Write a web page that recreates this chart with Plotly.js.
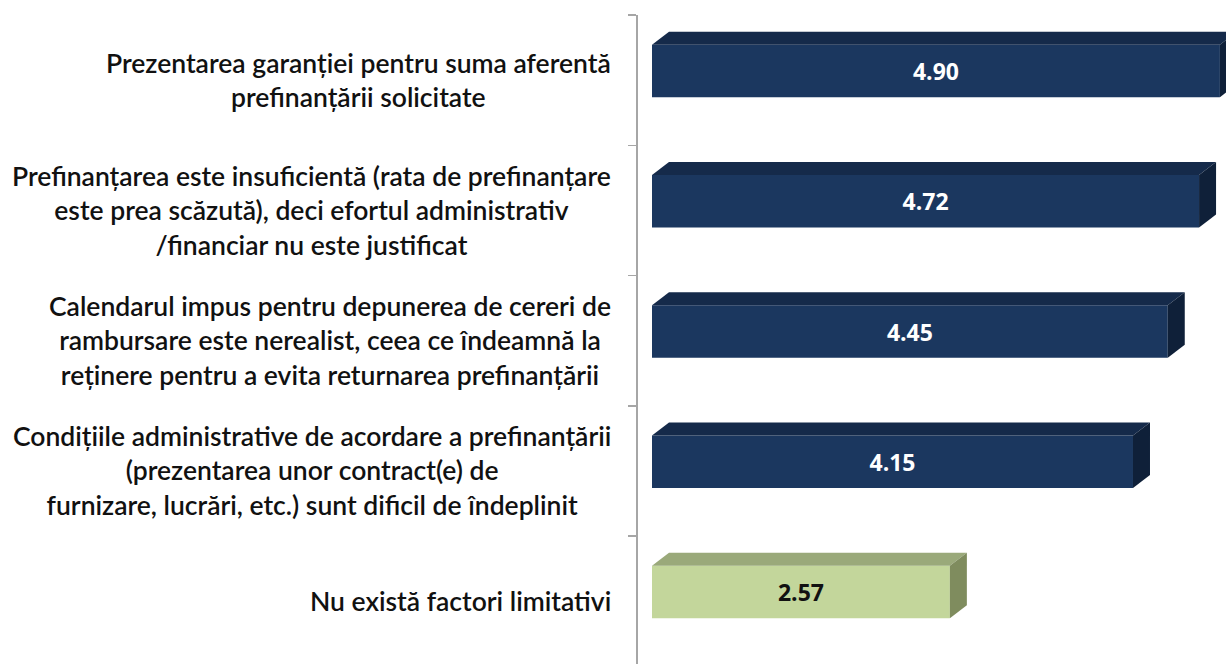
<!DOCTYPE html>
<html>
<head>
<meta charset="utf-8">
<script src="https://cdn.plot.ly/plotly-3.0.1.min.js"></script>
<style>
  html, body { margin: 0; padding: 0; background: #ffffff; }
  #chart { width: 1226px; height: 664px; }
</style>
</head>
<body>
<div id="chart"></div>
<script>
// ---- data ----
const categories = [
  "Prezentarea garanției pentru suma aferentă<br>prefinanțării solicitate",
  "Prefinanțarea este insuficientă (rata de prefinanțare<br>este prea scăzută), deci efortul administrativ<br>/financiar nu este justificat",
  "Calendarul impus pentru depunerea de cereri de<br>rambursare este nerealist, ceea ce îndeamnă la<br>reținere pentru a evita returnarea prefinanțării",
  "Condițiile administrative de acordare a prefinanțării<br>(prezentarea unor contract(e) de<br>furnizare, lucrări, etc.) sunt dificil de îndeplinit",
  "Nu există factori limitativi"
];
const values = [4.90, 4.72, 4.45, 4.15, 2.57];
const valueLabels = ["4.90", "4.72", "4.45", "4.15", "2.57"];

// ---- styles ----
const blue = { front: "#1b375f", top: "#152a4a", side: "#0f2039", text: "#ffffff" };
const green = { front: "#c3d69b", top: "#9aa97a", side: "#7f8c5e", text: "#111111" };
const palette = values.map((v, i) => (i === values.length - 1 ? green : blue));

// geometry (pixel-derived)
const pxPerX = 115.9, zeroPx = 652, plotLeft = 638, W = 1226, H = 664;
const pxPerY = 130.25, plotTop = 15;
const xMin = -(zeroPx - plotLeft) / pxPerX;
const xMax = (W - zeroPx) / pxPerX;
const yMin = -0.5, yMax = -0.5 + (H - plotTop) / pxPerY;
const barShift = -0.07, barWidth = 0.403;
const dx = 17 / pxPerX, dy = 13 / pxPerY;

const traces = [];
traces.push({
  type: "bar",
  orientation: "h",
  x: values,
  y: values.map((v, i) => i + barShift),
  width: barWidth,
  base: 0,
  marker: { color: palette.map(p => p.front), line: { width: 0 } },
  text: valueLabels.map(t => "<b>" + t + "</b>"),
  textposition: "inside",
  insidetextanchor: "middle",
  constraintext: "none",
  textfont: { family: "Open Sans, sans-serif", size: 23, color: palette.map(p => p.text) },
  hoverinfo: "skip",
  showlegend: false
});

values.forEach((v, i) => {
  const yc = i + barShift;
  const top = yc - barWidth / 2, bot = yc + barWidth / 2;
  // top face
  traces.push({
    type: "scatter", mode: "lines", fill: "toself",
    x: [0, dx, v + dx, v, 0],
    y: [top, top - dy, top - dy, top, top],
    line: { width: 0 }, fillcolor: palette[i].top,
    hoverinfo: "skip", showlegend: false
  });
  // side face
  traces.push({
    type: "scatter", mode: "lines", fill: "toself",
    x: [v, v + dx, v + dx, v, v],
    y: [top, top - dy, bot - dy, bot, top],
    line: { width: 0 }, fillcolor: palette[i].side,
    hoverinfo: "skip", showlegend: false
  });
});

const annotations = categories.map((c, i) => ({
  xref: "paper", yref: "y",
  x: 0, y: i,
  xanchor: "right", yanchor: "middle",
  xshift: -25,
  align: "center",
  text: c,
  showarrow: false,
  font: { family: "Lato, sans-serif", size: 26.5, color: "#111111", weight: 600 }
}));

const layout = {
  width: W, height: H,
  margin: { l: plotLeft, r: 0, t: plotTop, b: 0, pad: 0 },
  paper_bgcolor: "#ffffff",
  plot_bgcolor: "#ffffff",
  showlegend: false,
  xaxis: {
    range: [xMin, xMax],
    showgrid: false, zeroline: false, showline: false,
    showticklabels: false, ticks: ""
  },
  yaxis: {
    range: [yMax, yMin],
    showgrid: false, zeroline: false,
    showline: true, linecolor: "#a6a6a6", linewidth: 2,
    tickmode: "array",
    tickvals: [-0.5, 0.5, 1.5, 2.5, 3.5, 4.5],
    ticks: "outside", ticklen: 8, tickwidth: 1.5, tickcolor: "#a6a6a6",
    showticklabels: false
  },
  annotations: annotations
};

Plotly.newPlot("chart", traces, layout, { displayModeBar: false, staticPlot: true });
</script>
</body>
</html>
